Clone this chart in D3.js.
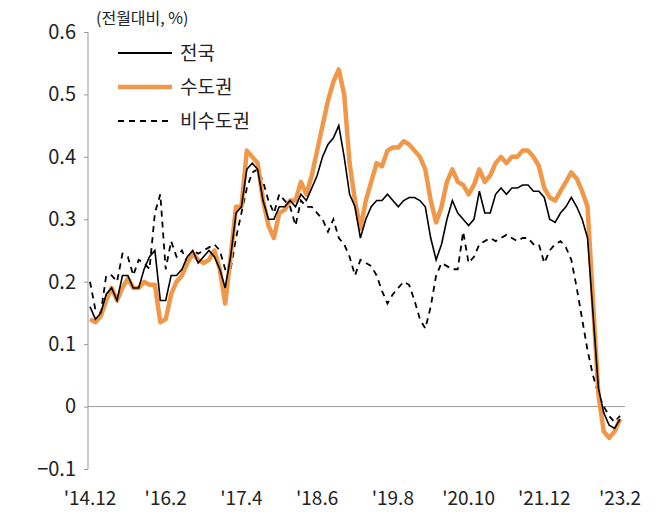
<!DOCTYPE html><html><head><meta charset="utf-8"><script src="https://cdn.jsdelivr.net/npm/d3@7"></script>
<style>body{margin:0;background:#fff}text{font-family:"Noto Sans CJK KR","Noto Sans",sans-serif}</style></head><body><svg id="c" width="664" height="518"></svg><script>
const tickLabels=["'14.12","'16.2","'17.4","'18.6","'19.8","'20.10","'21.12","'23.2"];
const yTicks=[-0.1,0,0.1,0.2,0.3,0.4,0.5,0.6];
const national=[0.16,0.14,0.15,0.18,0.19,0.17,0.21,0.21,0.19,0.19,0.22,0.24,0.25,0.17,0.17,0.21,0.21,0.22,0.24,0.25,0.23,0.24,0.25,0.24,0.22,0.19,0.24,0.31,0.32,0.38,0.39,0.38,0.33,0.30,0.30,0.32,0.32,0.33,0.32,0.34,0.33,0.35,0.37,0.40,0.42,0.43,0.45,0.40,0.34,0.32,0.27,0.30,0.32,0.33,0.33,0.34,0.33,0.32,0.33,0.335,0.335,0.33,0.32,0.27,0.235,0.26,0.30,0.33,0.31,0.30,0.29,0.30,0.345,0.31,0.31,0.34,0.35,0.34,0.35,0.35,0.355,0.355,0.345,0.345,0.335,0.30,0.295,0.31,0.32,0.335,0.32,0.30,0.27,0.15,0.03,-0.01,-0.03,-0.035,-0.02];
const metro=[0.14,0.135,0.145,0.17,0.19,0.17,0.19,0.205,0.19,0.19,0.20,0.195,0.195,0.135,0.14,0.18,0.20,0.21,0.23,0.245,0.235,0.23,0.235,0.25,0.22,0.165,0.24,0.32,0.32,0.41,0.40,0.39,0.33,0.29,0.27,0.31,0.315,0.33,0.33,0.36,0.34,0.37,0.41,0.45,0.49,0.52,0.54,0.50,0.39,0.33,0.285,0.33,0.36,0.39,0.385,0.41,0.415,0.415,0.425,0.42,0.41,0.40,0.38,0.33,0.295,0.32,0.36,0.38,0.36,0.355,0.34,0.355,0.38,0.36,0.37,0.39,0.40,0.39,0.40,0.40,0.41,0.41,0.40,0.385,0.35,0.335,0.33,0.345,0.36,0.375,0.365,0.345,0.32,0.17,0.02,-0.04,-0.05,-0.04,-0.02];
const nonMetro=[0.20,0.155,0.15,0.21,0.21,0.20,0.245,0.24,0.21,0.235,0.23,0.22,0.31,0.34,0.22,0.265,0.24,0.25,0.23,0.25,0.245,0.25,0.255,0.26,0.25,0.22,0.22,0.27,0.31,0.35,0.375,0.38,0.36,0.33,0.31,0.34,0.33,0.32,0.29,0.33,0.32,0.32,0.31,0.30,0.28,0.30,0.27,0.26,0.24,0.21,0.235,0.23,0.225,0.21,0.185,0.165,0.18,0.19,0.20,0.195,0.17,0.14,0.125,0.16,0.21,0.23,0.225,0.22,0.22,0.28,0.23,0.24,0.26,0.265,0.27,0.265,0.27,0.275,0.27,0.265,0.27,0.27,0.26,0.26,0.23,0.25,0.26,0.265,0.255,0.235,0.19,0.14,0.09,0.05,0.02,0.0,-0.015,-0.025,-0.015];
const names=["전국","수도권","비수도권"];
const svg=d3.select("#c");
const x=d3.scaleLinear().domain([0,98]).range([90,620]);
const y=d3.scaleLinear().domain([-0.1,0.6]).range([469,32]);
svg.append("line").attr("x1",88).attr("x2",88).attr("y1",32).attr("y2",469).attr("stroke","#999");
const ya=svg.append("g").attr("transform","translate(88,0)").call(d3.axisLeft(y).tickValues(yTicks).tickSize(4).tickFormat(d=>d===0?"0":d3.format(".1f")(d)));
ya.select(".domain").remove();ya.selectAll("line").attr("stroke","#999");ya.selectAll("text").attr("font-size",20).attr("fill","#222").attr("x",-12);
svg.append("line").attr("x1",88).attr("x2",625).attr("y1",y(0)).attr("y2",y(0)).attr("stroke","#999");
tickLabels.forEach((t,i)=>{svg.append("text").attr("x",x(i*14)).attr("y",505).attr("text-anchor","middle").attr("font-size",19).attr("fill","#222").text(t);});
const line=d3.line().x((d,i)=>x(i)).y(d=>y(d));
svg.append("path").datum(nonMetro).attr("d",line).attr("fill","none").attr("stroke","#000").attr("stroke-width",1.8).attr("stroke-dasharray","6,5");
svg.append("path").datum(metro).attr("d",line).attr("fill","none").attr("stroke","#f0974a").attr("stroke-width",4.5).attr("stroke-linejoin","round");
svg.append("path").datum(national).attr("d",line).attr("fill","none").attr("stroke","#000").attr("stroke-width",1.6);
svg.append("text").attr("x",96).attr("y",24).attr("font-size",16).attr("fill","#222").text("(전월대비, %)");
const lg=[{c:"#000",w:1.8,d:null},{c:"#f0974a",w:4.5,d:null},{c:"#000",w:1.8,d:"6,5"}];
lg.forEach((l,i)=>{const yy=53+i*34;svg.append("line").attr("x1",118).attr("x2",172).attr("y1",yy).attr("y2",yy).attr("stroke",l.c).attr("stroke-width",l.w).attr("stroke-dasharray",l.d);
svg.append("text").attr("x",180).attr("y",yy+7).attr("font-size",19).attr("fill","#222").text(names[i]);});
</script></body></html>
